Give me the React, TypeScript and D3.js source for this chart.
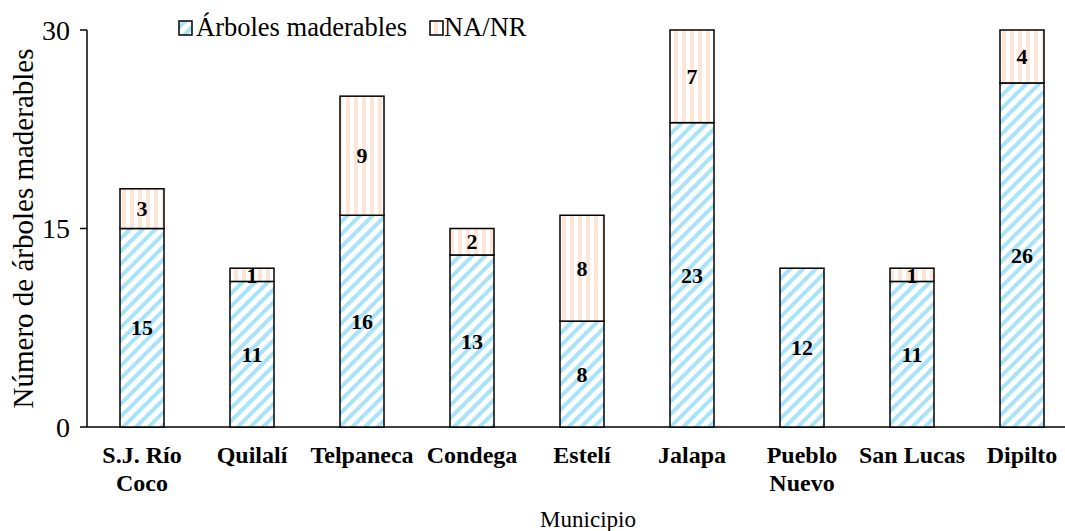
import React from 'react'
import * as d3 from 'd3'

const municipios = [['S.J. Río', 'Coco'], ['Quilalí'], ['Telpaneca'], ['Condega'], ['Estelí'], ['Jalapa'], ['Pueblo', 'Nuevo'], ['San Lucas'], ['Dipilto']]
const maderables = [15, 11, 16, 13, 8, 23, 12, 11, 26]
const naNr = [3, 1, 9, 2, 8, 7, 0, 1, 4]
const yTicks = [0, 15, 30]

const W = 1065
const H = 531
const FONT = "'Times New Roman', serif"

export default function App() {
    const margin = { top: 30, left: 87, bottom: 104 }
    const x = d3.scaleBand<number>().domain(d3.range(municipios.length)).range([margin.left, margin.left + 990]).paddingInner(0.6).paddingOuter(0.3)
    const y = d3.scaleLinear().domain([0, 30]).range([H - margin.bottom, margin.top])
    const y0 = y(0)

    return (
        <svg width={W} height={H} style={{ position: 'absolute', left: 0, top: 0, background: '#fff', fontFamily: FONT }}>
            <defs>
                <pattern id="diag" patternUnits="userSpaceOnUse" width="9" height="9" patternTransform="rotate(45)">
                    <rect width="9" height="9" fill="#fff" />
                    <rect x="0" width="4" height="9" fill="#a8e3f8" />
                </pattern>
                <pattern id="vert" patternUnits="userSpaceOnUse" width="8" height="8">
                    <rect width="8" height="8" fill="#fff" />
                    <rect x="2" width="4" height="8" fill="#fde6d8" />
                </pattern>
            </defs>

            {/* axes */}
            <line x1={margin.left} x2={W} y1={y0} y2={y0} stroke="#000" strokeWidth={1.5} />
            <line x1={margin.left} x2={margin.left} y1={y(30)} y2={y0} stroke="#000" strokeWidth={1.5} />
            {yTicks.map(t => (
                <g key={t}>
                    <line x1={margin.left - 7} x2={margin.left} y1={y(t)} y2={y(t)} stroke="#000" strokeWidth={1.5} />
                    <text x={70} y={y(t)} dy="0.34em" textAnchor="end" fontSize={28}>{t}</text>
                </g>
            ))}

            {/* bars */}
            {maderables.map((v, i) => {
                const bx = x(i)!
                const bw = x.bandwidth()
                const n = naNr[i]
                return (
                    <g key={i}>
                        <rect x={bx} y={y(v)} width={bw} height={y0 - y(v)} fill="url(#diag)" stroke="#000" strokeWidth={1.5} />
                        <text x={bx + bw / 2} y={(y(v) + y0) / 2} dy="0.35em" textAnchor="middle" fontSize={22} fontWeight="bold">{v}</text>
                        {n > 0 && (
                            <>
                                <rect x={bx} y={y(v + n)} width={bw} height={y(v) - y(v + n)} fill="url(#vert)" stroke="#000" strokeWidth={1.5} />
                                <text x={bx + bw / 2} y={(y(v + n) + y(v)) / 2} dy="0.35em" textAnchor="middle" fontSize={22} fontWeight="bold">{n}</text>
                            </>
                        )}
                    </g>
                )
            })}

            {/* category labels */}
            {municipios.map((lines, i) => (
                <text key={i} x={x(i)! + x.bandwidth() / 2} y={463} textAnchor="middle" fontSize={24} fontWeight="bold">
                    {lines.map((l, j) => (
                        <tspan key={j} x={x(i)! + x.bandwidth() / 2} dy={j === 0 ? 0 : 28}>{l}</tspan>
                    ))}
                </text>
            ))}

            {/* titles */}
            <text x={588} y={527} textAnchor="middle" fontSize={23}>Municipio</text>
            <text transform={`translate(33,${(y(30) + y0) / 2}) rotate(-90)`} textAnchor="middle" fontSize={29}>Número de árboles maderables</text>

            {/* legend */}
            <rect x={179} y={21} width={13} height={14} fill="url(#diag)" stroke="#000" strokeWidth={1.5} />
            <text x={196} y={36} fontSize={26.5}>Árboles maderables</text>
            <rect x={430} y={21} width={13} height={14} fill="url(#vert)" stroke="#000" strokeWidth={1.5} />
            <text x={444} y={36} fontSize={26.5}>NA/NR</text>
        </svg>
    )
}
